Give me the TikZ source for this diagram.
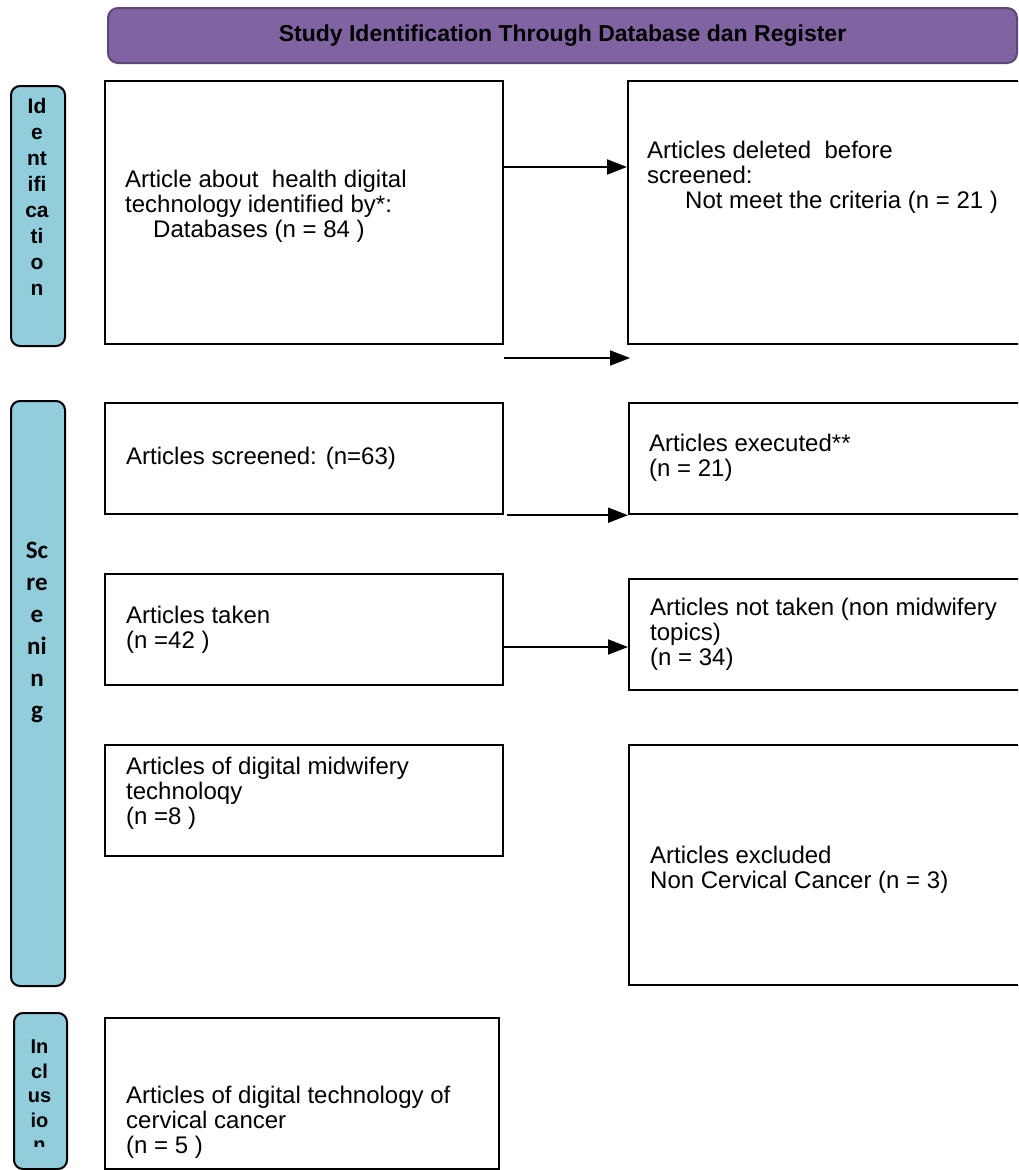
\documentclass[tikz,border=0pt]{standalone}
\usepackage{fontspec}
\setmainfont{Liberation Sans}
\newfontfamily\carlfont{Carlito}
\usetikzlibrary{arrows.meta}
\definecolor{hdrfill}{HTML}{8064A2}
\definecolor{hdrdraw}{HTML}{5C4776}
\definecolor{sidefill}{HTML}{92CDDC}
\begin{document}
\begin{tikzpicture}[x=1pt,y=-1pt,
  box/.style={draw=black, line width=2.2pt, fill=white, inner sep=0pt, anchor=north west},
  side/.style={draw=black, line width=2pt, fill=sidefill, rounded corners=9pt, inner sep=0pt, anchor=north west},
  hdr/.style={draw=hdrdraw, line width=2pt, fill=hdrfill, rounded corners=10pt, inner sep=0pt, anchor=north west},
  txt/.style={anchor=north west, inner sep=0pt, align=left, font=\fontsize{24}{25}\selectfont},
  sidetxt/.style={anchor=north, inner sep=0pt, align=center, font=\bfseries\fontsize{21}{26}\selectfont},
  arr/.style={line width=2pt, -{Triangle[length=20pt,width=15pt]}}]
\clip (0,0) rectangle (1018,1170);
% header
\node[hdr, minimum width=909pt, minimum height=55pt] (hd) at (107,7) {};
\node[font=\bfseries\fontsize{23}{26}\selectfont, inner sep=0pt] (hdt) at (hd.center) {Study Identification Through Database dan Register};
% side bars
\node[side, minimum width=54pt, minimum height=260pt] (sid) at (10,85) {};
\node[sidetxt] (sidt) at (37,95) {\strut Id\\\strut e\\\strut nt\\\strut ifi\\\strut ca\\\strut ti\\\strut o\\\strut n};
\node[side, minimum width=54pt, minimum height=585pt] (ssc) at (10,400) {};
\node[sidetxt, font=\carlfont\bfseries\fontsize{25}{32}\selectfont] (ssct) at (37,535.6) {\strut Sc\\\strut re\\\strut e\\\strut ni\\\strut n\\\strut g};
\node[side, minimum width=53pt, minimum height=156pt] (sin) at (13,1012) {};
\begin{scope}
\clip (0,0) rectangle (1018,1146);
\node[sidetxt, font=\bfseries\fontsize{20}{24.5}\selectfont] (sint) at (39.5,1036.5) {\strut In\\\strut cl\\\strut us\\\strut io\\\strut n};
\end{scope}
% boxes
\node[box, minimum width=398pt, minimum height=263pt] (A) at (104,80) {};
\node[box, minimum width=398pt, minimum height=263pt] (B) at (627,80) {};
\node[box, minimum width=398pt, minimum height=111pt] (C) at (104,402) {};
\node[box, minimum width=397pt, minimum height=111pt] (D) at (628,402) {};
\node[box, minimum width=398pt, minimum height=111pt] (E) at (104,573) {};
\node[box, minimum width=397pt, minimum height=111pt] (F) at (628,578) {};
\node[box, minimum width=398pt, minimum height=111pt] (G) at (104,744) {};
\node[box, minimum width=397pt, minimum height=240pt] (H) at (628,744) {};
\node[box, minimum width=394pt, minimum height=151pt] (I) at (104,1017) {};
% texts
\node[txt] (At) at (125,169.5) {\strut Article about\ \ health digital\\\strut technology identified by*:\\\hspace*{28pt}\strut Databases (n = 84 )};
\node[txt] (Bt) at (647,140.5) {\strut Articles deleted\ \ before\\\strut screened:\\\hspace*{38pt}\strut Not meet the criteria (n = 21 )};
\node[txt] (Ct) at (126,446.5) {\strut Articles screened: (n=63)};
\node[txt] (Dt) at (649,433.5) {\strut Articles executed**\\\strut (n = 21)};
\node[txt] (Et) at (126,605.5) {\strut Articles taken\\\strut (n =42 )};
\node[txt] (Ft) at (650,597.5) {\strut Articles not taken (non midwifery\\\strut topics)\\\strut (n = 34)};
\node[txt] (Gt) at (126,756.5) {\strut Articles of digital midwifery\\\strut technoloqy\\\strut (n =8 )};
\node[txt] (Ht) at (650,845.5) {\strut Articles excluded\\\strut Non Cervical Cancer (n = 3)};
\node[txt] (It) at (126,1085.5) {\strut Articles of digital technology of\\\strut cervical cancer\\\strut (n = 5 )};
% connectors
\coordinate (a1) at (0,167);
\coordinate (f1) at (504,358);
\coordinate (f2) at (630,358);
\coordinate (a4) at (0,647);
\draw[arr] (A.east |- a1) -- (B.west |- a1);
\draw[arr] (f1) -- (f2);
\draw[arr] ([xshift=3pt]C.south east) -- (D.south west);
\draw[arr] (E.east |- a4) -- (F.west |- a4);
\end{tikzpicture}
\end{document}
